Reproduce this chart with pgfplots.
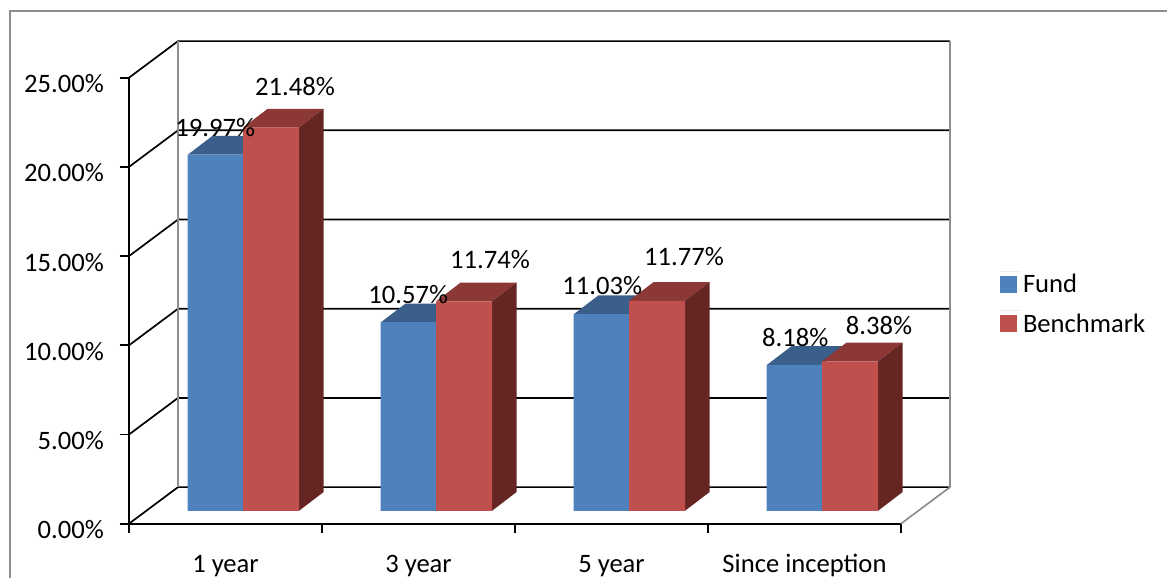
\documentclass[border=0pt]{standalone}
\usepackage{pgfplots}
\usepackage{fontspec}
\setmainfont{Carlito}
\pgfplotsset{compat=1.18}
\definecolor{fundfront}{HTML}{4F81BD}
\definecolor{fundtop}{HTML}{3A5F8B}
\definecolor{benchfront}{HTML}{C0504D}
\definecolor{benchtop}{HTML}{8C3836}
\definecolor{benchside}{HTML}{652523}
\definecolor{framegray}{HTML}{8E8E8E}

% Depth of a column in axis units (24.5pt across, 18.7pt up)
\newcommand{\depthx}{0.127}
\newcommand{\depthy}{1.048}

% Top face of a column between x-positions #1 and #2 at value #3, in colour #4
\newcommand{\topface}[4]{%
  \pgfmathsetmacro{\xa}{#1+\depthx}%
  \pgfmathsetmacro{\xb}{#2+\depthx}%
  \pgfmathsetmacro{\yb}{#3+\depthy}%
  \edef\temp{\noexpand\addplot[raised,fill=#4,draw=none,forget plot]
    coordinates {(#1,#3) (#2,#3) (\xb,\yb) (\xa,\yb)} -- cycle;}\temp}
% Side face of a column whose right edge is at #1, value #2, in colour #3
\newcommand{\sideface}[3]{%
  \pgfmathsetmacro{\xb}{#1+\depthx}%
  \pgfmathsetmacro{\yb}{#2+\depthy}%
  \edef\temp{\noexpand\addplot[raised,fill=#3,draw=none,forget plot]
    coordinates {(#1,0) (#1,#2) (\xb,\yb) (\xb,\depthy)} -- cycle;}\temp}
% Value label at (#1,#2), moved by #3 and #4 in pt
\newcommand{\valuelabel}[4]{%
  \edef\temp{\noexpand\node[font=\noexpand\fontsize{26.6}{30}\noexpand\selectfont,inner sep=0pt,anchor=center,
    xshift=#3pt,yshift=#4pt] at (axis cs:#1,#2) {#2\noexpand\%};}\temp}

\pgfplotstableread{
pos   fund   bench
0.5907 19.97 21.48
1.5907 10.57 11.74
2.5907 11.03 11.77
3.5907 8.18  8.38
}\returns

\begin{document}
\begin{tikzpicture}[x=1pt,y=1pt]
\useasboundingbox (0,0) rectangle (1167,578);
% Outer frame of the chart area
\draw[framegray,line width=1.8pt] (10,0) -- (10,567) -- (1167,567);
\begin{axis}[
  at={(129pt,54.3pt)}, anchor=south west,
  scale only axis, width=772pt, height=446pt,
  xmin=0, xmax=4, ymin=0, ymax=25,
  clip=false,
  axis x line*=bottom, axis y line*=left,
  axis line style={black,line width=1.7pt,-},
  tick style={black,line width=1.7pt},
  tick align=outside, major tick length=9pt,
  xtick={0,1,2,3,4}, x tick label as interval,
  xticklabels={1 year,3 year,5 year,Since inception},
  ytick={0,5,10,15,20,25},
  yticklabels={0.00\%,5.00\%,10.00\%,15.00\%,20.00\%,25.00\%},
  tick label style={font=\fontsize{26.6}{30}\selectfont},
  y tick label style={inner sep=0pt,xshift=-16pt,yshift=-6pt},
  x tick label style={inner sep=0pt,anchor=base,yshift=-40pt},
  raised/.style={yshift=12.9pt},
  legend cell align=left,
  legend style={at={(1.128,0.567)},anchor=north west,draw=none,fill=none,
    font=\fontsize{26.6}{30}\selectfont,row sep=15pt,inner sep=0pt},
  legend image code/.code={\fill[#1,draw=none] (0pt,-21.5pt) rectangle (17pt,-4.5pt);
    \path (0pt,0pt) -- (21pt,0pt);},
]
% Gridlines on the left wall and back wall
\addplot[black,line width=1.7pt,forget plot] coordinates {(0,0) (0.254,2.05) (4.254,2.05)};
\addplot[black,line width=1.7pt,forget plot] coordinates {(0,5) (0.254,7.05) (4.254,7.05)};
\addplot[black,line width=1.7pt,forget plot] coordinates {(0,10) (0.254,12.05) (4.254,12.05)};
\addplot[black,line width=1.7pt,forget plot] coordinates {(0,15) (0.254,17.05) (4.254,17.05)};
\addplot[black,line width=1.7pt,forget plot] coordinates {(0,20) (0.254,22.05) (4.254,22.05)};
\addplot[black,line width=1.7pt,forget plot] coordinates {(0,25) (0.254,27.05) (4.254,27.05)};
% Wall edges
\addplot[framegray,line width=1.7pt,forget plot] coordinates {(0.254,2.05) (0.254,27.05)};
\addplot[framegray,line width=1.7pt,forget plot] coordinates {(4,0) (4.254,2.05) (4.254,27.05)};

% Fund columns
\topface{0.3057}{0.5907}{19.97}{fundtop}
\topface{1.3057}{1.5907}{10.57}{fundtop}
\topface{2.3057}{2.5907}{11.03}{fundtop}
\topface{3.3057}{3.5907}{8.18}{fundtop}
\addplot[raised,ybar,fill=fundfront,draw=none,bar width=55.5pt,bar shift=-27.75pt]
  table[x=pos,y=fund] {\returns};
\addlegendentry{Fund}

% Benchmark columns
\topface{0.5907}{0.8808}{21.48}{benchtop}
\topface{1.5907}{1.8808}{11.74}{benchtop}
\topface{2.5907}{2.8808}{11.77}{benchtop}
\topface{3.5907}{3.8808}{8.38}{benchtop}
\sideface{0.8808}{21.48}{benchside}
\sideface{1.8808}{11.74}{benchside}
\sideface{2.8808}{11.77}{benchside}
\sideface{3.8808}{8.38}{benchside}
\addplot[raised,ybar,fill=benchfront,draw=none,bar width=56pt,bar shift=28pt]
  table[x=pos,y=bench] {\returns};
\addlegendentry{Benchmark}

% Value labels
\valuelabel{0.4470}{19.97}{0}{40}
\valuelabel{1.4470}{10.57}{0}{41}
\valuelabel{2.4470}{11.03}{1}{41}
\valuelabel{3.4470}{8.18}{1}{40}
\valuelabel{0.7360}{21.48}{24}{54}
\valuelabel{1.7360}{11.74}{26}{55}
\valuelabel{2.7360}{11.77}{27}{57}
\valuelabel{3.7360}{8.38}{29}{49}
\end{axis}
\end{tikzpicture}
\end{document}
